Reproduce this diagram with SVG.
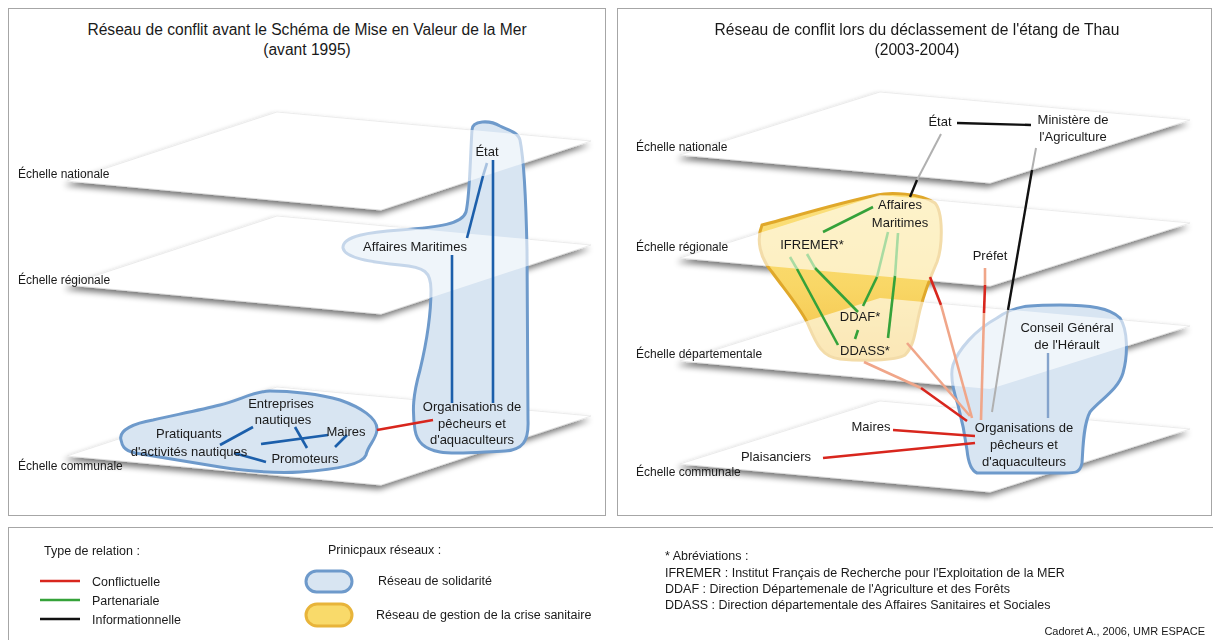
<svg xmlns="http://www.w3.org/2000/svg" xmlns:xlink="http://www.w3.org/1999/xlink" width="1213" height="640" viewBox="0 0 1213 640">
<style>
text{font-family:"Liberation Sans",Arial,sans-serif;fill:#1a1a1a}
.t{font-size:15.6px;text-anchor:middle}
.sc{font-size:12px}
.n{font-size:13px;text-anchor:middle}
.lg{font-size:12.5px}
.frame{fill:#fff;stroke:#a6a6a6;stroke-width:1}
.plane{fill:#fff;stroke:#e2e2e2;stroke-width:0.6}
.ov{fill:#fff;fill-opacity:0.6}
.bblob{fill:#d8e5f2;stroke:#6e9acb;stroke-width:3}
.yblob{fill:url(#yg);stroke:#e0a82a;stroke-width:3}
line,polyline{fill:none;stroke-linecap:butt}
.bl{stroke:#1c5fab;stroke-width:2.6}
.blL{stroke:#a8c2e0;stroke-width:2.6}
.r{stroke:#d8261d;stroke-width:2.6}
.s{stroke:#f0a689;stroke-width:2.6}
.g{stroke:#35a23a;stroke-width:2.6}
.gL{stroke:#a9dba2;stroke-width:2.6}
.k{stroke:#111;stroke-width:2.4}
.kL{stroke:#b0b0b0;stroke-width:2}
.cb{stroke:#84a3cc;stroke-width:2.4}
</style>
<defs>
<filter id="sh" x="-10%" y="-30%" width="120%" height="170%">
<feGaussianBlur in="SourceAlpha" stdDeviation="3"/>
<feOffset dx="-2" dy="4"/>
<feComponentTransfer><feFuncA type="linear" slope="0.55"/></feComponentTransfer>
<feMerge><feMergeNode/><feMergeNode in="SourceGraphic"/></feMerge>
</filter>
<linearGradient id="yg" x1="0" y1="0" x2="0" y2="1">
<stop offset="0" stop-color="#fbe07c"/>
<stop offset="0.55" stop-color="#f9d766"/>
<stop offset="1" stop-color="#f3c24a"/>
</linearGradient>
<path id="pl" d="M0,0 L210,-69 L524,-40 L314,29 Z"/>
<path id="pr" d="M0,0 L200,-63 L510,-35 L310,28 Z"/>
<path id="blobL" d="M472,130 C472,120 490,120 500,126 C508,130 518,132 520,140 C524,160 526,200 527,250 L528,420 C529,442 522,450 505,451 C480,452 455,455 440,452 C424,449 417,442 415,430 C412,410 413,395 420,370 C426,345 431,320 431,290 C431,272 425,267 400,265 C370,262 345,258 343,248 C342,236 370,232 400,230 C440,227 462,224 466,212 C470,195 470,160 472,130 Z"/>
<path id="blobY" d="M762,225 C790,218 830,205 877,195 C890,192 920,193 935,203 C943,212 943,245 937,262 C930,278 925,290 920,310 C915,330 915,345 905,355 C895,361 860,361 840,359 C820,357 815,340 807,322 C798,305 785,290 772,272 C760,258 756,240 762,225 Z"/>
<path id="blobR" d="M997,318 C1015,305 1030,305 1060,305 C1090,305 1110,308 1120,318 C1128,330 1128,355 1123,373 C1118,390 1100,400 1090,412 C1083,425 1083,450 1082,463 C1080,473 1075,473 1065,473 L977,473 C970,470 968,460 967,450 C965,435 962,420 958,405 C953,390 950,375 953,365 C958,350 975,330 997,318 Z"/>
<mask id="mL"><use xlink:href="#blobL" fill="#fff" stroke="#fff" stroke-width="6"/></mask>
<mask id="mR"><use xlink:href="#blobY" fill="#fff" stroke="#fff" stroke-width="6"/><use xlink:href="#blobR" fill="#fff" stroke="#fff" stroke-width="6"/></mask>
</defs>

<rect width="1213" height="640" fill="#fff"/>

<!-- Left panel -->
<g id="panel-left">
<rect class="frame" x="8.5" y="8.5" width="597" height="507"/>
<text class="t" x="307" y="35">Réseau de conflit avant le Schéma de Mise en Valeur de la Mer</text>
<text class="t" x="307" y="55">(avant 1995)</text>
<g id="planes-left" filter="url(#sh)">
<use xlink:href="#pl" class="plane" x="67" y="181"/>
<use xlink:href="#pl" class="plane" x="67" y="285"/>
<use xlink:href="#pl" class="plane" x="67" y="456"/>
</g>
<text class="sc" x="18" y="178">Échelle nationale</text>
<text class="sc" x="18" y="284">Échelle régionale</text>
<text class="sc" x="18" y="470">Échelle communale</text>
<use id="blob-solidarite-left" xlink:href="#blobL" class="bblob"/>
<g mask="url(#mL)">
<use xlink:href="#pl" class="ov" x="67" y="181"/>
<use xlink:href="#pl" class="ov" x="67" y="285"/>
</g>
<path id="blob-communal-left" class="bblob" d="M121,440 C118,430 135,423 153,420 C175,415 200,410 220,405 C240,400 255,391 270,391 C290,391 320,394 340,400 C360,407 378,418 377,430 C376,440 368,445 366,455 C362,466 330,470 300,472 C270,474 240,470 220,467 C190,462 160,457 135,453 C123,450 122,445 121,440 Z"/>
</g>

<g id="connectors-left">
<line class="blL" x1="487" y1="163" x2="483" y2="176"/>
<line class="bl" x1="483" y1="176" x2="467" y2="238"/>
<line class="bl" x1="493" y1="160" x2="493" y2="403"/>
<line class="bl" x1="452" y1="255" x2="452" y2="403"/>
<line class="bl" x1="220" y1="445" x2="253" y2="427"/>
<line class="bl" x1="295" y1="427" x2="307" y2="448"/>
<line class="bl" x1="261" y1="444" x2="328" y2="435"/>
<line class="bl" x1="335" y1="447" x2="347" y2="435"/>
<line class="bl" x1="234" y1="453" x2="266" y2="462"/>
<line class="r" x1="377" y1="430" x2="433" y2="420"/>
</g>

<g id="n-etat-l"><text class="n" x="487" y="156">État</text></g>
<g id="n-affmar-l"><text class="n" x="415" y="251">Affaires Maritimes</text></g>
<g id="n-orga-l"><text class="n" x="472" y="411">Organisations de</text><text class="n" x="472" y="428">pêcheurs et</text><text class="n" x="472" y="444">d'aquaculteurs</text></g>
<g id="n-entr-l"><text class="n" x="281" y="408">Entreprises</text><text class="n" x="283" y="424">nautiques</text></g>
<g id="n-prat-l"><text class="n" x="189" y="438">Pratiquants</text><text class="n" x="189" y="456">d'activités nautiques</text></g>
<g id="n-maires-l"><text class="n" x="346" y="436">Maires</text></g>
<g id="n-promo-l"><text class="n" x="305" y="463">Promoteurs</text></g>

<!-- Right panel -->
<g id="panel-right">
<rect class="frame" x="617.5" y="8.5" width="594" height="507"/>
<text class="t" x="917" y="35">Réseau de conflit lors du déclassement de l'étang de Thau</text>
<text class="t" x="917" y="55">(2003-2004)</text>
<g id="planes-right" filter="url(#sh)">
<use xlink:href="#pr" class="plane" x="680" y="155"/>
<use xlink:href="#pr" class="plane" x="680" y="258"/>
<use xlink:href="#pr" class="plane" x="680" y="361"/>
<use xlink:href="#pr" class="plane" x="680" y="464"/>
</g>
<text class="sc" x="636" y="151">Échelle nationale</text>
<text class="sc" x="636" y="251">Échelle régionale</text>
<text class="sc" x="636" y="358">Échelle départementale</text>
<text class="sc" x="636" y="476">Échelle communale</text>
<use id="blob-crise" xlink:href="#blobY" class="yblob"/>
<use id="blob-solidarite-right" xlink:href="#blobR" class="bblob"/>
<g mask="url(#mR)">
<use xlink:href="#pr" class="ov" x="680" y="258"/>
<use xlink:href="#pr" class="ov" x="680" y="361"/>
</g>
</g>

<g id="connectors-right">
<line class="k" x1="957" y1="123" x2="1031" y2="125"/>
<line class="kL" x1="941" y1="134" x2="917" y2="180"/>
<line class="k" x1="917" y1="180" x2="910" y2="197"/>
<line class="kL" x1="1036" y1="148" x2="1032" y2="170"/>
<line class="k" x1="1032" y1="170" x2="1008" y2="310"/>
<line class="kL" x1="1008" y1="310" x2="992" y2="412"/>
<line class="s" x1="985" y1="268" x2="985" y2="285"/>
<line class="r" x1="985" y1="285" x2="984" y2="313"/>
<line class="s" x1="984" y1="313" x2="981" y2="420"/>
<line class="r" x1="930" y1="277" x2="941" y2="305"/>
<line class="s" x1="941" y1="305" x2="972" y2="418"/>
<line class="s" x1="907" y1="343" x2="970" y2="416"/>
<line class="s" x1="864" y1="362" x2="921" y2="388"/>
<line class="r" x1="921" y1="388" x2="967" y2="421"/>
<line class="r" x1="893" y1="430" x2="975" y2="436"/>
<line class="r" x1="823" y1="458" x2="975" y2="443"/>
<line class="cb" x1="1048" y1="353" x2="1048" y2="418"/>
<line class="g" x1="823" y1="232" x2="873" y2="207"/>
<line class="gL" x1="790" y1="257" x2="797" y2="269"/>
<line class="g" x1="797" y1="269" x2="838" y2="345"/>
<line class="gL" x1="807" y1="254" x2="815" y2="268"/>
<line class="g" x1="815" y1="268" x2="858" y2="312"/>
<line class="gL" x1="888" y1="232" x2="877" y2="277"/>
<line class="g" x1="877" y1="277" x2="863" y2="306"/>
<line class="gL" x1="898" y1="233" x2="895" y2="276"/>
<line class="g" x1="895" y1="276" x2="888" y2="338"/>
<line class="g" x1="858" y1="330" x2="855" y2="339"/>
</g>

<g id="n-etat-r"><text class="n" x="940" y="126">État</text></g>
<g id="n-minagri"><text class="n" x="1073" y="124">Ministère de</text><text class="n" x="1073" y="141">l'Agriculture</text></g>
<g id="n-affmar-r"><text class="n" x="900" y="209">Affaires</text><text class="n" x="900" y="227">Maritimes</text></g>
<g id="n-ifremer"><text class="n" x="812" y="249">IFREMER*</text></g>
<g id="n-ddaf"><text class="n" x="860" y="321">DDAF*</text></g>
<g id="n-ddass"><text class="n" x="865" y="355">DDASS*</text></g>
<g id="n-prefet"><text class="n" x="990" y="260">Préfet</text></g>
<g id="n-cg"><text class="n" x="1067" y="332">Conseil Général</text><text class="n" x="1067" y="349">de l'Hérault</text></g>
<g id="n-orga-r"><text class="n" x="1024" y="432">Organisations de</text><text class="n" x="1024" y="449">pêcheurs et</text><text class="n" x="1024" y="466">d'aquaculteurs</text></g>
<g id="n-maires-r"><text class="n" x="871" y="431">Maires</text></g>
<g id="n-plais"><text class="n" x="776" y="461">Plaisanciers</text></g>

<!-- Legend -->
<g id="legend">
<rect class="frame" x="8.5" y="527.5" width="1210" height="120"/>
<text class="lg" x="44" y="555">Type de relation :</text>
<line class="r" x1="40" y1="581" x2="80" y2="581"/>
<line class="g" x1="40" y1="600" x2="80" y2="600"/>
<line class="k" x1="40" y1="619" x2="80" y2="619"/>
<text class="lg" x="92" y="586">Conflictuelle</text>
<text class="lg" x="92" y="605">Partenariale</text>
<text class="lg" x="92" y="624">Informationnelle</text>
<text class="lg" x="328" y="554">Prinicpaux réseaux :</text>
<rect x="306" y="571" width="46" height="21" rx="10.5" fill="#d8e5f2" stroke="#6e9acb" stroke-width="3"/>
<rect x="306" y="604" width="46" height="22" rx="11" fill="#f9da6a" stroke="#e8b43a" stroke-width="3"/>
<text class="lg" x="378" y="585">Réseau de solidarité</text>
<text class="lg" x="376" y="619">Réseau de gestion de la crise sanitaire</text>
<text class="lg" x="665" y="560">* Abréviations :</text>
<text class="lg" x="665" y="577">IFREMER : Institut Français de Recherche pour l'Exploitation de la MER</text>
<text class="lg" x="665" y="593">DDAF : Direction Départemenale de l'Agriculture et des Forêts</text>
<text class="lg" x="665" y="609">DDASS : Direction départementale des Affaires Sanitaires et Sociales</text>
<text x="1205" y="635" style="font-size:11px;text-anchor:end">Cadoret A., 2006, UMR ESPACE</text>
</g>
</svg>
